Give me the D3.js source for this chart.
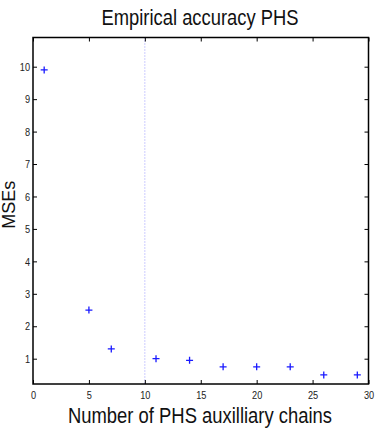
<!DOCTYPE html>
<html>
<head>
<meta charset="utf-8">
<script src="https://cdn.jsdelivr.net/npm/d3@7"></script>
<style>
  body { margin: 0; background: #fff; }
  svg text { font-family: "Liberation Sans", Arial, sans-serif; }
</style>
</head>
<body>
<svg id="chart" width="376" height="434"></svg>
<script>
// number of auxiliary chains and measured MSE
const chains = [1, 5, 7, 11, 14, 17, 20, 23, 26, 29];
const mses = [9.9, 2.5, 1.3, 1.0, 0.95, 0.75, 0.75, 0.75, 0.5, 0.5];
const xTicks = [0, 5, 10, 15, 20, 25, 30];
const yTicks = [1, 2, 3, 4, 5, 6, 7, 8, 9, 10];
const markerX = 10;

(function () {
  const svg = d3.select("#chart");
  const pLeft = 33, pRight = 368.5, pTop = 37.5, pBottom = 384;
  const narrow = 0.8;

  const x = d3.scaleLinear().domain([0, 30]).range([pLeft, pRight]);
  const y = d3.scaleLinear().domain([0.22, 10.9]).range([pBottom, pTop]);

  // dotted vertical line
  svg.append("line")
    .attr("x1", x(markerX)).attr("x2", x(markerX))
    .attr("y1", pTop).attr("y2", pBottom)
    .attr("stroke", "#9a9aff")
    .attr("stroke-width", 1)
    .attr("stroke-dasharray", "1,2");

  function style(g) {
    g.select(".domain").remove();
    g.selectAll(".tick line").attr("stroke", "#000").attr("stroke-width", 1);
    g.selectAll("text").attr("font-size", 11.5).attr("fill", "#222")
      .style("font-family", '"Liberation Sans", Arial, sans-serif');
  }

  svg.append("g").attr("transform", `translate(0,${pBottom})`)
    .call(d3.axisBottom(x).tickValues(xTicks).tickSize(-4).tickPadding(7))
    .call(style)
    .selectAll(".tick text").attr("transform", `scale(${narrow},1)`);
  svg.append("g").attr("transform", `translate(0,${pTop})`)
    .call(d3.axisTop(x).tickValues(xTicks).tickSize(-4).tickFormat(""))
    .call(style);
  svg.append("g").attr("transform", `translate(${pLeft},0)`)
    .call(d3.axisLeft(y).tickValues(yTicks).tickSize(-4).tickPadding(3))
    .call(style)
    .selectAll(".tick text").attr("x", -3 / narrow).attr("transform", `scale(${narrow},1)`);
  svg.append("g").attr("transform", `translate(${pRight},0)`)
    .call(d3.axisRight(y).tickValues(yTicks).tickSize(-4).tickFormat(""))
    .call(style);

  // frame
  svg.append("rect")
    .attr("x", pLeft).attr("y", pTop)
    .attr("width", pRight - pLeft).attr("height", pBottom - pTop)
    .attr("fill", "none").attr("stroke", "#000").attr("stroke-width", 1.5);

  // plus markers
  const s = 3.5;
  svg.append("g").selectAll("path")
    .data(chains.map((c, i) => [c, mses[i]]))
    .join("path")
    .attr("d", d => {
      const px = x(d[0]), py = y(d[1]);
      return `M${px - s},${py}H${px + s}M${px},${py - s}V${py + s}`;
    })
    .attr("stroke", "#1a1aff")
    .attr("stroke-width", 1.3)
    .attr("fill", "none");

  svg.append("text")
    .attr("x", 101.5).attr("y", 25)
    .attr("font-size", 22).attr("fill", "#111")
    .attr("textLength", 197).attr("lengthAdjust", "spacingAndGlyphs")
    .text("Empirical accuracy PHS");

  svg.append("text")
    .attr("x", 68).attr("y", 423)
    .attr("font-size", 21.5).attr("fill", "#111")
    .attr("textLength", 264).attr("lengthAdjust", "spacingAndGlyphs")
    .text("Number of PHS auxilliary chains");

  svg.append("text")
    .attr("transform", `translate(15,${(pTop + pBottom) / 2 - 6}) rotate(-90)`)
    .attr("text-anchor", "middle").attr("font-size", 18).attr("fill", "#111")
    .text("MSEs");
})();
</script>
</body>
</html>
